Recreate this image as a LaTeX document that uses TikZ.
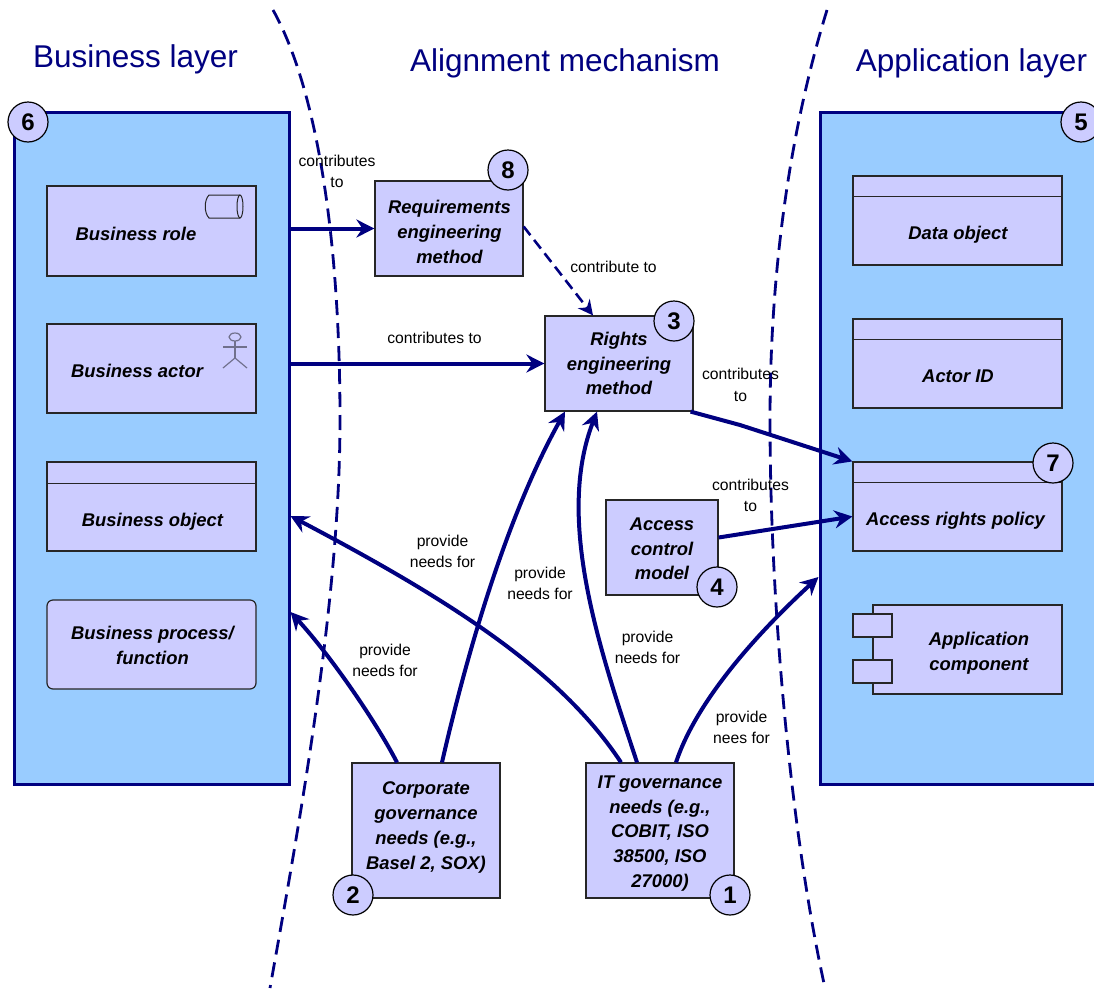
\documentclass[tikz,border=0pt]{standalone}
\usepackage{fontspec}
\setmainfont{Liberation Sans}
\usetikzlibrary{arrows.meta}
\definecolor{layerblue}{HTML}{99CCFF}
\definecolor{boxlilac}{HTML}{CCCCFF}
\definecolor{navyline}{HTML}{000080}
\tikzset{
    layerbox/.style = {draw=navyline, fill=layerblue, line width=3pt, inner sep=0pt},
    elembox/.style = {draw=black!85, fill=boxlilac, line width=1.2pt, inner sep=0pt, align=center, font=\fontsize{18.4}{24.7}\selectfont\bfseries\itshape},
    elemtext/.style = {inner sep=0pt, align=center, font=\fontsize{18.4}{24.7}\selectfont\bfseries\itshape},
    numdot/.style = {circle, draw=black, fill=boxlilac, line width=1.2pt, minimum size=40pt, inner sep=0pt, font=\fontsize{24}{24}\selectfont\bfseries},
    heading/.style = {text=navyline, inner sep=0pt, font=\fontsize{31.5}{36}\selectfont},
    linknote/.style = {inner sep=0pt, align=center, font=\fontsize{15.7}{21.5}\selectfont},
    flow/.style = {draw=navyline, line width=4pt, -{Stealth[length=18pt,width=18pt,inset=6pt]}},
    flowdash/.style = {draw=navyline, line width=2.6pt, dash pattern=on 11pt off 6pt, -{Stealth[length=15pt,width=15pt,inset=5pt]}},
    border/.style = {draw=navyline, line width=2.8pt, dash pattern=on 15pt off 8pt},
    icon/.style = {draw=black!85, line width=1pt},
    stickman/.style = {draw=black!45!boxlilac, line width=1.2pt}
}
\begin{document}
\begin{tikzpicture}[x=1pt, y=-1pt]
        \useasboundingbox (0,0) rectangle (1094,988);

        % the two layers
        \node[layerbox, minimum width=275pt, minimum height=672pt] (bizLayer) at (151.5,448) {};
        \node[layerbox, minimum width=280pt, minimum height=672pt] (appLayer) at (960,448) {};

        % the borders of the middle part
        \draw[border] (273,10) .. controls (315,85) and (340,230) .. (340,420) .. controls (340,600) and (300,820) .. (270,988);
        \draw[border] (827,10) .. controls (790,130) and (770,270) .. (770,420) .. controls (770,600) and (790,830) .. (825,988);

        \node[heading] (bizTitle) at (135.5,59) {Business layer};
        \node[heading] (midTitle) at (565,63) {Alignment mechanism};
        \node[heading] (appTitle) at (971.5,63) {Application layer};

        % business layer
        \node[elembox, minimum width=209pt, minimum height=90pt] (bizRole) at (151.5,231) {};
        \node[elembox, minimum width=209pt, minimum height=89pt] (bizActor) at (151.5,368.5) {};
        \node[elembox, minimum width=209pt, minimum height=89pt] (bizObject) at (151.5,506.5) {};
        \node[elembox, minimum width=209pt, minimum height=89pt, rounded corners=6pt] (bizProcess) at (151.5,644.5) {};
        \node[elemtext] (bizRoleText) at (136,233.5) {Business role};
        \node[elemtext] (bizActorText) at (137,370.5) {Business actor};
        \node[elemtext] (bizObjectText) at (152.5,521.5) {Business object};
        \node[elemtext] (bizProcessText) at (152.5,645.5) {Business process/\\function};
        \draw[icon] ([yshift=-22pt]bizObject.north west) -- ([yshift=-22pt]bizObject.north east);

        \draw[icon] (240,195) -- (209,195) .. controls (204,200) and (204,213) .. (209,218) -- (240,218);
        \draw[icon] (240,206.5) ellipse (3pt and 11.5pt);

        \draw[stickman] (235,337) ellipse (6pt and 4pt);
        \draw[stickman] (235,341) -- (235,358);
        \draw[stickman] (223,347) -- (247,347);
        \draw[stickman] (223,368) -- (235,358);
        \draw[stickman] (235,358) -- (247,368);

        % application layer
        \node[elembox, minimum width=209pt, minimum height=89pt] (dataObject) at (957.5,220.5) {};
        \node[elembox, minimum width=209pt, minimum height=89pt] (actorId) at (957.5,363.5) {};
        \node[elembox, minimum width=209pt, minimum height=89pt] (rightsPolicy) at (957.5,506.5) {};
        \node[elembox, minimum width=189pt, minimum height=89pt] (appComp) at (967.5,649.5) {};
        \node[elembox, minimum width=39pt, minimum height=23pt] (appPortA) at (872.5,625.5) {};
        \node[elembox, minimum width=39pt, minimum height=23pt] (appPortB) at (872.5,671.5) {};
        \node[elemtext] (dataObjectText) at (958,234.5) {Data object};
        \node[elemtext] (actorIdText) at (958,376) {Actor ID};
        \node[elemtext] (rightsPolicyText) at (955.5,521) {Access rights policy};
        \node[elemtext] (appCompText) at (979,653.5) {Application\\component};
        \draw[icon] ([yshift=-21pt]dataObject.north west) -- ([yshift=-21pt]dataObject.north east);
        \draw[icon] ([yshift=-21pt]actorId.north west) -- ([yshift=-21pt]actorId.north east);
        \draw[icon] ([yshift=-21pt]rightsPolicy.north west) -- ([yshift=-21pt]rightsPolicy.north east);

        % alignment mechanism
        \node[elembox, minimum width=148pt, minimum height=95pt] (reqMethod) at (449,228.5) {};
        \node[elembox, minimum width=148pt, minimum height=95pt] (rightsMethod) at (619,363.5) {Rights\\engineering\\method};
        \node[elembox, minimum width=112pt, minimum height=95pt] (ctrlModel) at (662,547.5) {};
        \node[elembox, minimum width=148pt, minimum height=135pt] (corpNeeds) at (426,830.5) {};
        \node[elembox, minimum width=148pt, minimum height=135pt] (itNeeds) at (660,830.5) {};
        \node[elemtext] (reqMethodText) at (449.5,232) {Requirements\\engineering\\method};
        \node[elemtext] (ctrlModelText) at (662,549) {Access\\control\\model};
        \node[elemtext] (corpNeedsText) at (426,827.5) {Corporate\\governance\\needs (e.g.,\\Basel 2, SOX)};
        \node[elemtext] (itNeedsText) at (660,833.5) {IT governance\\needs (e.g.,\\COBIT, ISO\\38500, ISO\\27000)};

        % connectors
        \draw[flow] (bizLayer.east |- reqMethod.west) -- (reqMethod.west);
        \draw[flow] (bizLayer.east |- rightsMethod.west) -- (rightsMethod.west);
        \draw[flowdash] ([yshift=2pt]reqMethod.east) -- ([xshift=-26pt]rightsMethod.north);
        \draw[flow] ([xshift=-3pt]rightsMethod.south east) -- (740,425) -- (rightsPolicy.north west);
        \draw[flow] ([yshift=10pt]ctrlModel.east) -- ([yshift=-10pt]rightsPolicy.west);
        \draw[flow] ([xshift=-29pt]corpNeeds.north) .. controls (375,720) and (330,655) .. ([yshift=-164pt]bizLayer.east);
        \draw[flow] ([xshift=16pt]corpNeeds.north) .. controls (470,640) and (510,510) .. ([xshift=-54pt]rightsMethod.south);
        \draw[flow] ([xshift=-39pt]itNeeds.north) .. controls (560,670) and (450,600) .. ([yshift=-68pt]bizLayer.east);
        \draw[flow] ([xshift=-23pt]itNeeds.north) .. controls (600,650) and (555,520) .. ([xshift=-22pt]rightsMethod.south);
        \draw[flow] ([xshift=16pt]itNeeds.north) .. controls (695,705) and (750,640) .. ([yshift=-129pt]appLayer.west);

        % connector notes
        \node[linknote] (noteA) at (337,171.5) {contributes\\to};
        \node[linknote] (noteB) at (434.5,338) {contributes to};
        \node[linknote] (noteC) at (613.5,267) {contribute to};
        \node[linknote] (noteD) at (740.5,385) {contributes\\to};
        \node[linknote] (noteE) at (750.5,495.5) {contributes\\to};
        \node[linknote] (noteF) at (442.5,551.5) {provide\\needs for};
        \node[linknote] (noteG) at (540,583.5) {provide\\needs for};
        \node[linknote] (noteH) at (385,660.5) {provide\\needs for};
        \node[linknote] (noteI) at (647.5,647.5) {provide\\needs for};
        \node[linknote] (noteJ) at (741.5,727.5) {provide\\nees for};

        % numbers
        \node[numdot] (numSix) at (28,122) {6};
        \node[numdot] (numFive) at (1081,122) {5};
        \node[numdot] (numEight) at (508,170) {8};
        \node[numdot] (numThree) at (674,321) {3};
        \node[numdot] (numSeven) at (1053,463) {7};
        \node[numdot] (numFour) at (717,587) {4};
        \node[numdot] (numTwo) at (353,895) {2};
        \node[numdot] (numOne) at (730,895) {1};
    \end{tikzpicture}
\end{document}
